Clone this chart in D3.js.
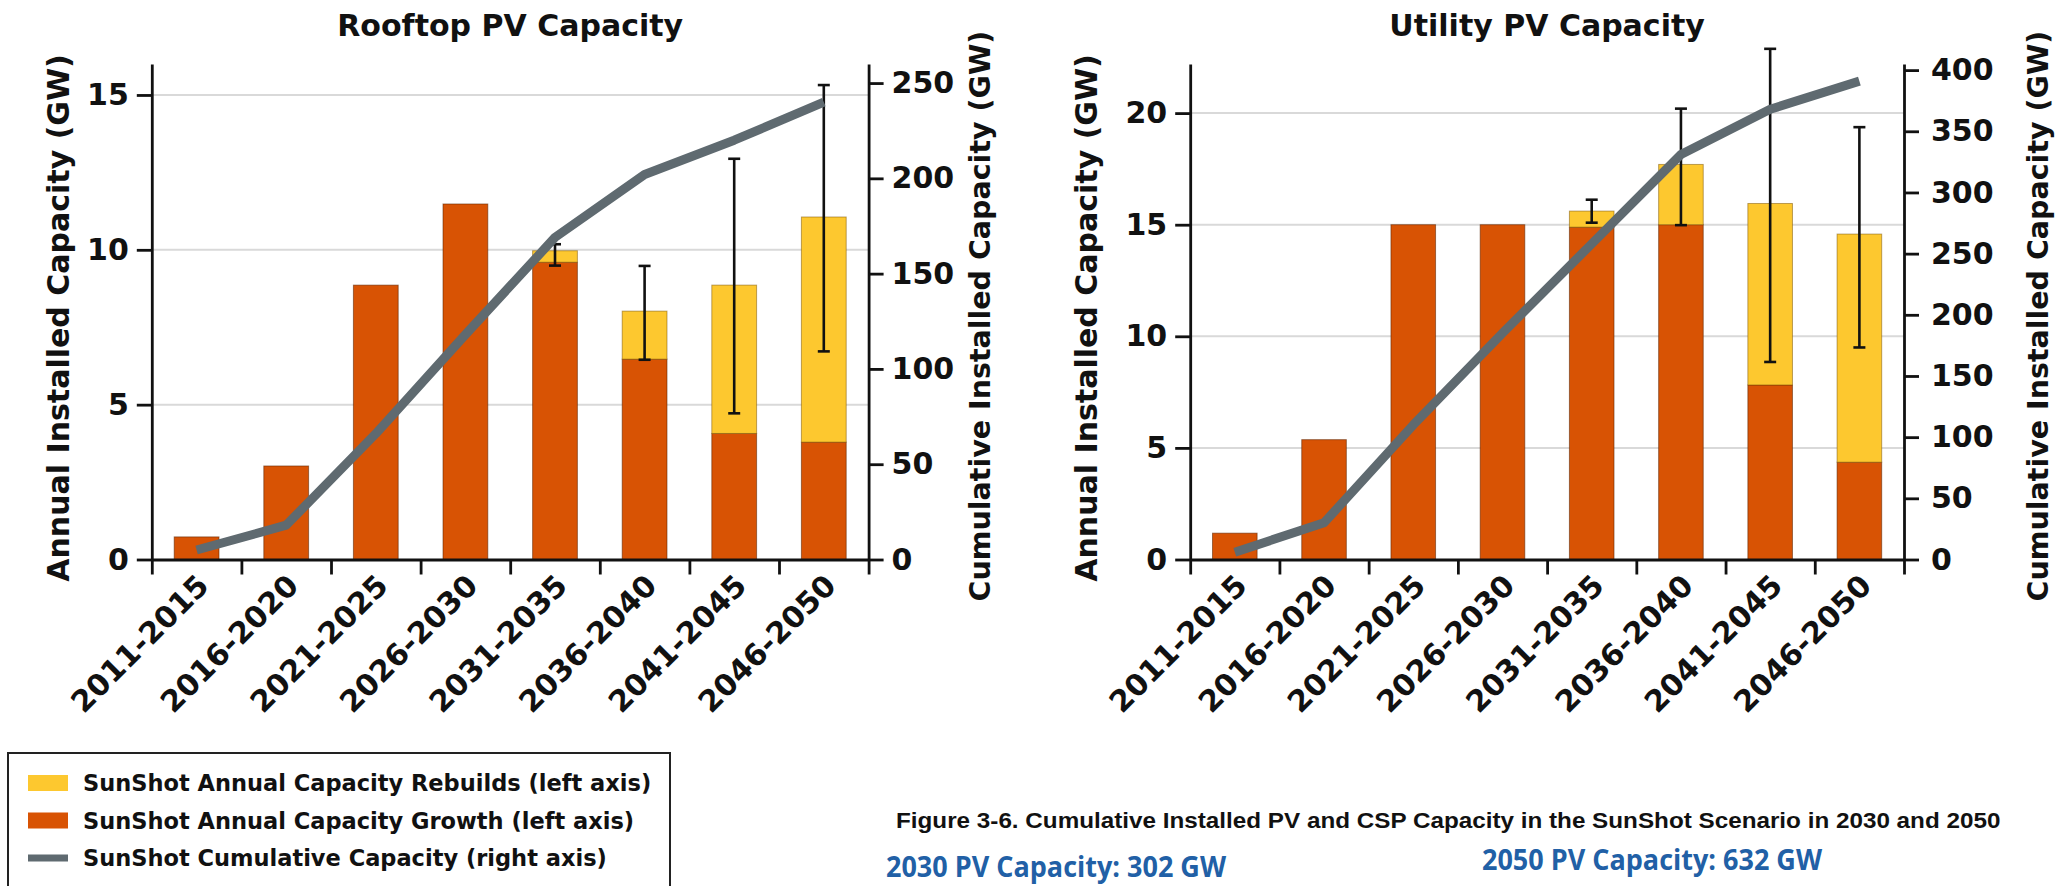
<!DOCTYPE html>
<html>
<head>
<meta charset="utf-8">
<script src="https://cdn.jsdelivr.net/npm/d3@7"></script>
<style>
  html, body { margin: 0; padding: 0; background: #fff; }
  svg { display: block; background: #fff; }
  text { font-family: "DejaVu Sans", sans-serif; font-weight: bold; fill: #111; }
</style>
</head>
<body>
<svg id="chart" width="2072" height="886"></svg>
<script>
/* ---------------- data ---------------- */
var periods = ["2011-2015", "2016-2020", "2021-2025", "2026-2030",
               "2031-2035", "2036-2040", "2041-2045", "2046-2050"];

// rooftop PV, GW (left axis = annual, right axis = cumulative)
var rooftopGrowth     = [0.73, 3.02, 8.86, 11.48, 9.60, 6.47, 4.07, 3.79];
var rooftopRebuilds   = [0, 0, 0, 0, 0.37, 1.55, 4.79, 7.27];
var rooftopErrLow     = [null, null, null, null, 9.49, 6.45, 4.72, 6.72];
var rooftopErrHigh    = [null, null, null, null, 10.18, 9.48, 12.94, 15.32];
var rooftopCumulative = [5, 18, 66, 118, 169, 202, 220, 240];
var rooftopLeftTicks  = [0, 5, 10, 15];
var rooftopRightTicks = [0, 50, 100, 150, 200, 250];

// utility PV, GW
var utilityGrowth     = [1.18, 5.37, 15.0, 15.0, 14.89, 15.0, 7.82, 4.36];
var utilityRebuilds   = [0, 0, 0, 0, 0.72, 2.70, 8.13, 10.22];
var utilityErrLow     = [null, null, null, null, 15.09, 14.98, 8.85, 9.50];
var utilityErrHigh    = [null, null, null, null, 16.12, 20.20, 22.88, 19.37];
var utilityCumulative = [6, 30, 110, 185, 258, 331, 368, 391];
var utilityLeftTicks  = [0, 5, 10, 15, 20];
var utilityRightTicks = [0, 50, 100, 150, 200, 250, 300, 350, 400];

var legendLabels = ["SunShot Annual Capacity Rebuilds (left axis)",
                    "SunShot Annual Capacity Growth (left axis)",
                    "SunShot Cumulative Capacity (right axis)"];

var captionText = "Figure 3-6. Cumulative Installed PV and CSP Capacity in the SunShot Scenario in 2030 and 2050";
var capacityNotes = ["2030 PV Capacity: 302 GW", "2050 PV Capacity: 632 GW"];

/* ---------------- style ---------------- */
var ORANGE = "#d85304", YELLOW = "#fdc82f", GREY = "#5f6a70";
var TOP = 64, BOTTOM = 559.5;

var svg = d3.select("#chart");

// squeeze a text horizontally (keeping its height) so it spans the given width
function condense(sel, x, y, width) {
    sel.each(function () {
        var w = this.getComputedTextLength();
        var k = w > 0 ? width / w : 1;
        d3.select(this).attr("transform",
            "translate(" + x + "," + y + ") scale(" + k.toFixed(4) + ",1)");
    });
}

function drawPanel(p) {
    var g = svg.append("g");

    var xb = d3.scaleBand().domain(periods).range([p.x0, p.x1])
        .paddingInner(0.5).paddingOuter(0.25);
    // edges between the periods, for the tick marks
    var xEdge = d3.scaleLinear().domain([0, periods.length]).range([p.x0, p.x1]);
    var yL = d3.scaleLinear().domain([0, p.leftMax]).range([BOTTOM, TOP]);
    var yR = d3.scaleLinear().domain([0, p.rightMax]).range([BOTTOM, TOP]);
    var cx = function (d) { return xb(d.k) + xb.bandwidth() / 2; };

    var rows = periods.map(function (k, i) {
        return {k: k, growth: p.growth[i], rebuild: p.rebuilds[i],
                lo: p.errLow[i], hi: p.errHigh[i], cum: p.cumulative[i]};
    });

    // gridlines
    g.selectAll(".grid").data(p.leftTicks.filter(function (d) { return d > 0; }))
      .enter().append("line")
        .attr("x1", p.x0).attr("x2", p.x1)
        .attr("y1", yL).attr("y2", yL)
        .attr("stroke", "#d9d9d9").attr("stroke-width", 2);

    // growth bars
    g.selectAll(".growth").data(rows).enter().append("rect")
        .attr("x", function (d) { return xb(d.k); })
        .attr("width", xb.bandwidth())
        .attr("y", function (d) { return yL(d.growth); })
        .attr("height", function (d) { return BOTTOM - yL(d.growth); })
        .attr("fill", ORANGE)
        .attr("stroke", "rgba(90,35,0,0.55)").attr("stroke-width", 1);

    // rebuild bars stacked on top
    g.selectAll(".rebuild").data(rows.filter(function (d) { return d.rebuild > 0; }))
      .enter().append("rect")
        .attr("x", function (d) { return xb(d.k); })
        .attr("width", xb.bandwidth())
        .attr("y", function (d) { return yL(d.growth + d.rebuild); })
        .attr("height", function (d) { return yL(d.growth) - yL(d.growth + d.rebuild); })
        .attr("fill", YELLOW)
        .attr("stroke", "rgba(120,80,0,0.5)").attr("stroke-width", 1);

    // error bars
    var err = g.selectAll(".err").data(rows.filter(function (d) { return d.lo != null; }))
      .enter().append("g").attr("stroke", "#111").attr("stroke-width", 2.6);
    err.append("line")
        .attr("x1", cx).attr("x2", cx)
        .attr("y1", function (d) { return yL(d.lo); })
        .attr("y2", function (d) { return yL(d.hi); });
    ["lo", "hi"].forEach(function (f) {
        err.append("line")
            .attr("x1", function (d) { return cx(d) - 6; })
            .attr("x2", function (d) { return cx(d) + 6; })
            .attr("y1", function (d) { return yL(d[f]); })
            .attr("y2", function (d) { return yL(d[f]); });
    });

    // cumulative line on the right axis
    var line = d3.line().x(cx).y(function (d) { return yR(d.cum); });
    g.append("path").datum(rows)
        .attr("d", line)
        .attr("fill", "none").attr("stroke", GREY).attr("stroke-width", 9)
        .attr("stroke-linejoin", "round");

    // axes
    var aL = g.append("g").attr("transform", "translate(" + p.x0 + ",0)")
        .call(d3.axisLeft(yL).tickValues(p.leftTicks).tickSize(15)
              .tickSizeOuter(0).tickPadding(8));
    var aR = g.append("g").attr("transform", "translate(" + p.x1 + ",0)")
        .call(d3.axisRight(yR).tickValues(p.rightTicks).tickSize(15)
              .tickSizeOuter(0).tickPadding(p.rightPad));
    var aB = g.append("g").attr("transform", "translate(0," + BOTTOM + ")")
        .call(d3.axisBottom(xEdge).tickValues(d3.range(periods.length + 1))
              .tickFormat("").tickSize(15).tickSizeOuter(0));
    [aL, aR, aB].forEach(function (a) {
        a.selectAll("path, line").attr("stroke", "#111").attr("stroke-width", 2.8);
        a.selectAll("text").attr("font-size", 30).attr("fill", "#111")
            .attr("font-family", "DejaVu Sans").attr("font-weight", "bold");
    });

    // rotated period labels
    g.selectAll(".xl").data(rows).enter().append("text")
        .attr("transform", function (d) {
            return "translate(" + (cx(d) + 14) + "," + (BOTTOM + 28) + ") rotate(-45)";
        })
        .attr("text-anchor", "end")
        .attr("font-size", 30)
        .text(function (d) { return d.k; });

    // title and axis titles
    g.append("text").attr("x", (p.x0 + p.x1) / 2).attr("y", 36)
        .attr("text-anchor", "middle").attr("font-size", 30).text(p.title);
    g.append("text")
        .attr("transform", "translate(" + p.leftLabelX + ",318) rotate(-90)")
        .attr("text-anchor", "middle").attr("dominant-baseline", "central")
        .attr("font-size", 30).text("Annual Installed Capacity (GW)");
    g.append("text")
        .attr("transform", "translate(" + p.rightLabelX + ",316) rotate(-90)")
        .attr("text-anchor", "middle").attr("dominant-baseline", "central")
        .attr("font-size", 28.5).text("Cumulative Installed Capacity (GW)");
}

drawPanel({
    title: "Rooftop PV Capacity", x0: 151.8, x1: 868.6,
    leftMax: 16, rightMax: 260, rightPad: 8,
    growth: rooftopGrowth, rebuilds: rooftopRebuilds,
    errLow: rooftopErrLow, errHigh: rooftopErrHigh, cumulative: rooftopCumulative,
    leftTicks: rooftopLeftTicks, rightTicks: rooftopRightTicks,
    leftLabelX: 58, rightLabelX: 980
});
drawPanel({
    title: "Utility PV Capacity", x0: 1190.2, x1: 1904,
    leftMax: 22.2, rightMax: 405, rightPad: 12,
    growth: utilityGrowth, rebuilds: utilityRebuilds,
    errLow: utilityErrLow, errHigh: utilityErrHigh, cumulative: utilityCumulative,
    leftTicks: utilityLeftTicks, rightTicks: utilityRightTicks,
    leftLabelX: 1086, rightLabelX: 2038
});

/* ---------------- legend ---------------- */
var lg = svg.append("g");
lg.append("rect").attr("x", 8).attr("y", 753).attr("width", 662).attr("height", 160)
    .attr("fill", "none").attr("stroke", "#222").attr("stroke-width", 2);
var lgRows = lg.selectAll(".lr").data(legendLabels).enter().append("g")
    .attr("transform", function (d, i) { return "translate(0," + (783 + i * 37.5) + ")"; });
lgRows.each(function (d, i) {
    var r = d3.select(this);
    if (i < 2) {
        r.append("rect").attr("x", 28).attr("y", -8).attr("width", 40).attr("height", 16)
            .attr("fill", i === 0 ? YELLOW : ORANGE);
    } else {
        r.append("line").attr("x1", 28).attr("x2", 68).attr("y1", 0).attr("y2", 0)
            .attr("stroke", GREY).attr("stroke-width", 7);
    }
    r.append("text").attr("x", 83).attr("y", 8).attr("font-size", 22.5).text(d);
});

/* ---------------- caption ---------------- */
// style() here, the stylesheet font would win over a plain attribute
svg.append("text")
    .style("font-family", "'Liberation Sans Narrow', 'Liberation Sans', Arial, sans-serif")
    .attr("font-size", 23)
    .text(captionText)
    .call(condense, 896, 828, 1105);
svg.selectAll(".note").data(capacityNotes).enter().append("text")
    .style("font-family", "'Open Sans', sans-serif").attr("font-size", 28)
    .style("fill", "#2160a6")
    .text(function (d) { return d; })
    .each(function (d, i) {
        d3.select(this).call(condense, i === 0 ? 886 : 1482, i === 0 ? 877 : 870, 340);
    });
</script>
</body>
</html>
